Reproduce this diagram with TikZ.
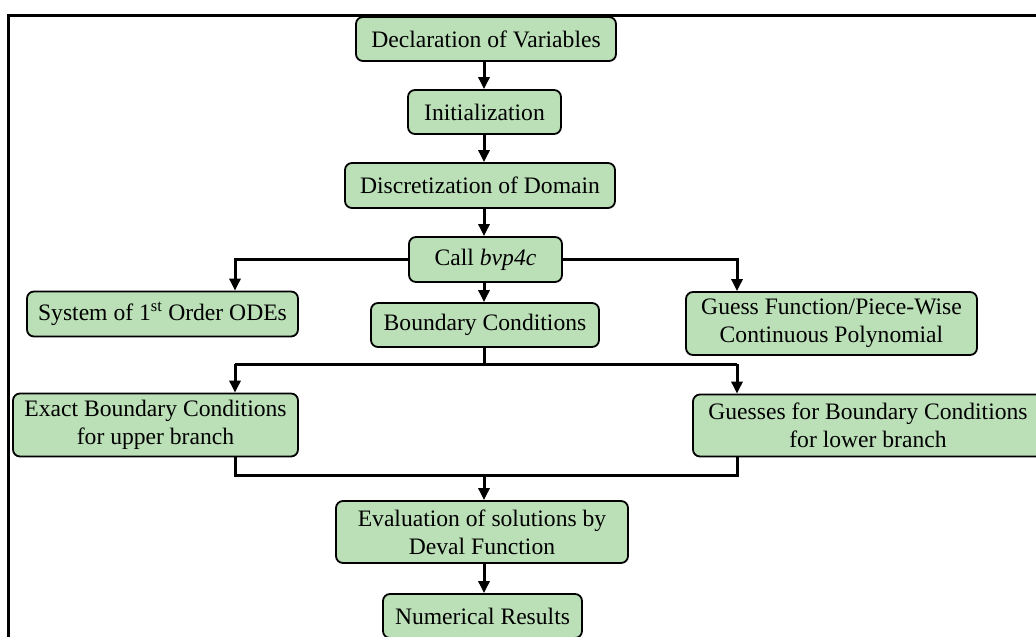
\documentclass[tikz,border=0pt]{standalone}
\usepackage{fontspec}
\setmainfont{Liberation Serif}
\usetikzlibrary{arrows.meta}
\definecolor{boxgreen}{RGB}{187,223,183}
\tikzset{
  box/.style={draw=black, line width=1.8pt, fill=boxgreen, rounded corners=7pt,
    inner sep=0pt, align=center, font=\fontsize{23.6}{28}\selectfont},
  arr/.style={line width=3pt, -{Triangle[length=12pt,width=11pt]}},
  ln/.style={line width=3pt},
}
\begin{document}
\begin{tikzpicture}[x=1pt,y=-1pt]
\useasboundingbox (0,0) rectangle (1036,637);
\clip (0,0) rectangle (1036,637);
\draw[line width=2.5pt] (8.5,15.5) rectangle (1050,660);

\node[box, minimum width=260pt, minimum height=44pt] (decl) at (486,39) {Declaration of Variables};
\node[box, minimum width=153pt, minimum height=44pt] (init) at (484.5,112) {Initialization};
\node[box, minimum width=270pt, minimum height=45pt] (disc) at (480,185.5) {Discretization of Domain};
\node[box, minimum width=153pt, minimum height=45pt] (call) at (485.5,259.5) {Call \textit{bvp4c}};
\node[box, minimum width=271pt, minimum height=45pt] (sys) at (162.5,314) {System of 1\textsuperscript{st} Order ODEs};
\node[box, minimum width=228pt, minimum height=44pt] (bc) at (485,325) {Boundary Conditions};
\node[box, minimum width=291pt, minimum height=63pt] (guess) at (831.5,323.5) {Guess Function/Piece-Wise\\Continuous Polynomial};
\node[box, minimum width=285pt, minimum height=63pt] (exact) at (155.5,425) {Exact Boundary Conditions\\for upper branch};
\node[box, minimum width=350pt, minimum height=62pt] (guesses) at (868,425.5) {Guesses for Boundary Conditions\\for lower branch};
\node[box, minimum width=292pt, minimum height=62pt] (eval) at (482,532) {Evaluation of solutions by\\Deval Function};
\node[box, minimum width=199pt, minimum height=44pt] (num) at (482.5,616) {Numerical Results};

\coordinate (spine) at (484,0);
\coordinate (lx) at (235,0);
\coordinate (rx) at (737,0);
\coordinate (split) at (0,364);
\coordinate (merge) at (0,475);

\draw[arr] (decl.south -| spine) -- (init.north -| spine);
\draw[arr] (init.south -| spine) -- (disc.north -| spine);
\draw[arr] (disc.south -| spine) -- (call.north -| spine);
\draw[arr] (call.south -| spine) -- (bc.north -| spine);
\draw[arr] (call.west) -| (sys.north -| lx);
\draw[arr] (call.east) -| (guess.north -| rx);

\draw[ln] (bc.south -| spine) -- (split -| spine);
\draw[ln] (split -| lx) -- (split -| rx);
\draw[arr] (split -| lx) -- (exact.north -| lx);
\draw[arr] (split -| rx) -- (guesses.north -| rx);

\draw[ln] (exact.south -| lx) |- (merge -| rx) -- (guesses.south -| rx);
\draw[arr] (merge -| spine) -- (eval.north -| spine);
\draw[arr] (eval.south -| spine) -- (num.north -| spine);
\end{tikzpicture}
\end{document}
